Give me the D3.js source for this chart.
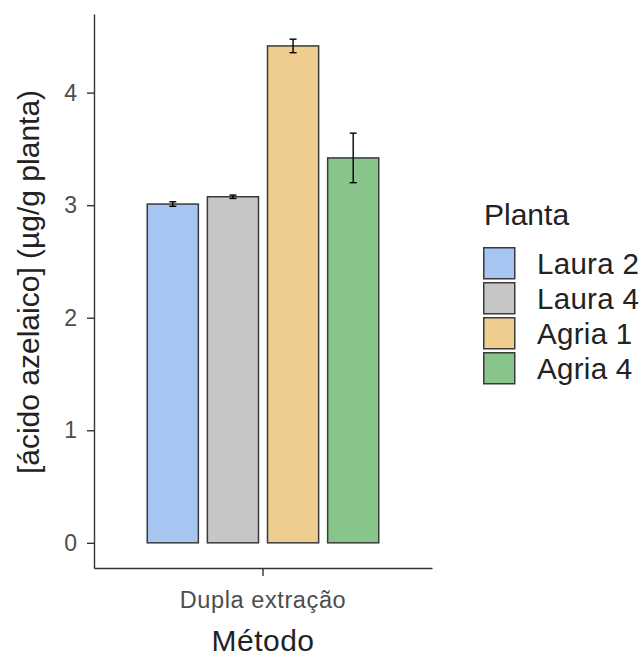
<!DOCTYPE html>
<html>
<head>
<meta charset="utf-8">
<script src="https://cdn.jsdelivr.net/npm/d3@7"></script>
<style>
  body { margin: 0; background: #fff; }
  text { font-family: "Liberation Sans", Arial, sans-serif; }
</style>
</head>
<body>
<svg id="drawing_region"></svg>
<script>
const metodos = ['Dupla extração'];
const plantas = ['Laura 2', 'Laura 4', 'Agria 1', 'Agria 4'];
const medias  = [3.01, 3.075, 4.415, 3.42];
const erros   = [0.02, 0.015, 0.06, 0.22];
const cores   = ['#a6c5f1', '#c6c6c6', '#efcd8e', '#88c58a'];
const yticks  = [0, 1, 2, 3, 4];

const data = plantas.map((p, i) => ({ metodo: metodos[0], planta: p, y: medias[i], se: erros[i] }));

const width = 643, height = 659;
const margin = { top: 14, right: 211, bottom: 91, left: 94 };
const inner_width  = width  - margin.left - margin.right;
const inner_height = height - margin.top  - margin.bottom;

const svg = d3.select('#drawing_region')
    .attr('width', width)
    .attr('height', height);

const chart = svg.append('g')
    .attr('transform', `translate(${margin.left}, ${margin.top})`);

// y domain like ggplot: 5% expansion each side
const ymax = d3.max(data, d => d.y + d.se);
const ylo = 0 - 0.05 * ymax, yhi = ymax * 1.05;
const yscale = d3.scaleLinear().domain([ylo, yhi]).range([inner_height, 0]);

const x0 = d3.scaleBand().domain(metodos).range([0, inner_width]).paddingOuter(0.23).paddingInner(0);
const x1 = d3.scaleBand().domain(plantas).range([0, x0.bandwidth()]).paddingInner(0.15).paddingOuter(0);
const color = d3.scaleOrdinal().domain(plantas).range(cores);

// bars
chart.append('g').selectAll('rect')
    .data(data)
    .join('rect')
    .attr('x', d => x0(d.metodo) + x1(d.planta))
    .attr('y', d => yscale(d.y))
    .attr('width', x1.bandwidth())
    .attr('height', d => yscale(0) - yscale(d.y))
    .attr('fill', d => color(d.planta))
    .attr('stroke', '#3a3a3a')
    .attr('stroke-width', 1.5);

// error bars
const cap = 3.5;
const cx = d => x0(d.metodo) + x1(d.planta) + x1.bandwidth() / 2;
const eb = chart.append('g').selectAll('g')
    .data(data)
    .join('g')
    .attr('stroke', '#000')
    .attr('stroke-width', 1.4);
eb.append('line')
    .attr('x1', cx).attr('x2', cx)
    .attr('y1', d => yscale(d.y - d.se))
    .attr('y2', d => yscale(d.y + d.se));
eb.append('line')
    .attr('x1', d => cx(d) - cap).attr('x2', d => cx(d) + cap)
    .attr('y1', d => yscale(d.y + d.se))
    .attr('y2', d => yscale(d.y + d.se));
eb.append('line')
    .attr('x1', d => cx(d) - cap).attr('x2', d => cx(d) + cap)
    .attr('y1', d => yscale(d.y - d.se))
    .attr('y2', d => yscale(d.y - d.se));

// axes
const yaxis = d3.axisLeft(yscale).tickValues(yticks).tickFormat(d3.format('d'))
    .tickSize(7).tickPadding(10).tickSizeOuter(0);
const xaxis = d3.axisBottom(x0).tickSize(8).tickPadding(5).tickSizeOuter(0);

const yg = chart.append('g').call(yaxis);
const xg = chart.append('g').attr('transform', `translate(0, ${inner_height})`).call(xaxis);

[yg, xg].forEach(g => {
    g.select('.domain').attr('stroke', '#333').attr('stroke-width', 1.4);
    g.selectAll('.tick line').attr('stroke', '#333').attr('stroke-width', 1.4);
    g.selectAll('.tick text').attr('fill', '#4d4d4d')
        .style('font-family', '"Liberation Sans", Arial, sans-serif');
});
yg.selectAll('.tick text').style('font-size', '23px');
xg.selectAll('.tick text').style('font-size', '23.5px').style('letter-spacing', '0.6px').attr('dy', '1.17em');

// axis titles
svg.append('text')
    .attr('x', margin.left + x0(metodos[0]) + x0.bandwidth() / 2)
    .attr('y', 651)
    .attr('text-anchor', 'middle')
    .attr('fill', '#222')
    .style('font-size', '30px')
    .style('letter-spacing', '0.5px')
    .text('Método');

svg.append('text')
    .attr('transform', `translate(39, ${margin.top + inner_height / 2 - 9}) rotate(-90)`)
    .attr('text-anchor', 'middle')
    .attr('fill', '#222')
    .style('font-size', '30px')
    .text('[ácido azelaico] (µg/g planta)');

// legend
const legend = svg.append('g').attr('transform', 'translate(483, 0)');
legend.append('text')
    .attr('x', 1)
    .attr('y', 225)
    .attr('fill', '#222')
    .style('font-size', '30px')
    .text('Planta');

const items = legend.selectAll('g.item')
    .data(plantas)
    .join('g')
    .attr('class', 'item')
    .attr('transform', (d, i) => `translate(0, ${247 + i * 35})`);
items.append('rect')
    .attr('x', 0.75).attr('y', 0.75)
    .attr('width', 31).attr('height', 31)
    .attr('fill', d => color(d))
    .attr('stroke', '#3a3a3a')
    .attr('stroke-width', 1.5);
items.append('text')
    .attr('x', 54)
    .attr('y', 16)
    .attr('dy', '0.36em')
    .attr('fill', '#222')
    .style('font-size', '29.5px')
    .style('letter-spacing', '0.3px')
    .text(d => d);
</script>
</body>
</html>
